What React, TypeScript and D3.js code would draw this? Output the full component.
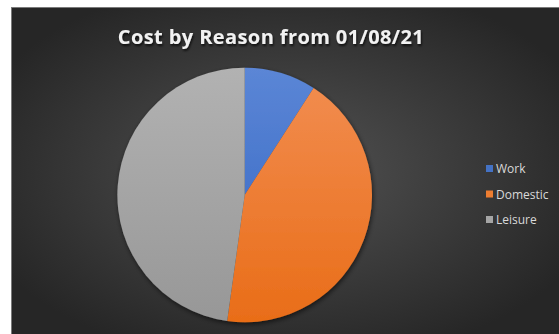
import React from "react";
import * as d3 from "d3";

const categories = ["Work", "Domestic", "Leisure"];
const values = [9.1, 43.1, 47.8];
const title = "Cost by Reason from 01/08/21";

const topColors = ["#5b86d6", "#f28e52", "#b2b2b2"];
const bottomColors = ["#3163c0", "#e96d18", "#979797"];
const legendColors = ["#4472c4", "#ed7d31", "#a5a5a5"];

export default function App() {
  const W = 559, H = 334;
  const cx = 244.7, cy = 195, r = 127.3;
  const pie = d3.pie<number>().sort(null).value((d) => d);
  const arcs = pie(values);
  const arc = d3.arc<d3.PieArcDatum<number>>().innerRadius(0).outerRadius(r);
  const legendY = d3.scalePoint<string>().domain(categories).range([169, 220]);

  return (
    <svg width={W} height={H} style={{ position: "absolute", left: 0, top: 0, fontFamily: "'Open Sans', 'Noto Sans', sans-serif" }}>
      <defs>
        <radialGradient id="bg" cx="50%" cy="50%" r="60%">
          <stop offset="0%" stopColor="#535353" />
          <stop offset="100%" stopColor="#262626" />
        </radialGradient>
        {categories.map((c, i) => (
          <linearGradient key={c} id={`g${i}`} x1="0" y1={-r} x2="0" y2={r} gradientUnits="userSpaceOnUse">
            <stop offset="0%" stopColor={topColors[i]} />
            <stop offset="100%" stopColor={bottomColors[i]} />
          </linearGradient>
        ))}
        <filter id="shadow" x="-20%" y="-20%" width="140%" height="140%">
          <feGaussianBlur in="SourceAlpha" stdDeviation="2.5" />
          <feOffset dx="1" dy="2" result="b" />
          <feComponentTransfer><feFuncA type="linear" slope="0.6" /></feComponentTransfer>
          <feMerge><feMergeNode /><feMergeNode in="SourceGraphic" /></feMerge>
        </filter>
        <filter id="tshadow" x="-10%" y="-30%" width="120%" height="160%">
          <feGaussianBlur in="SourceAlpha" stdDeviation="1" />
          <feOffset dx="1" dy="1.5" />
          <feComponentTransfer><feFuncA type="linear" slope="0.7" /></feComponentTransfer>
          <feMerge><feMergeNode /><feMergeNode in="SourceGraphic" /></feMerge>
        </filter>
      </defs>
      <rect x={0} y={0} width={W} height={H} fill="#ffffff" />
      <rect x={11} y={7} width={W - 11} height={H - 7} fill="url(#bg)" />
      <line x1={11} y1={7.5} x2={W} y2={7.5} stroke="#7a7a7a" strokeWidth={1} />
      <line x1={11.5} y1={7} x2={11.5} y2={H} stroke="#7a7a7a" strokeWidth={1} />
      <text x={271} y={44} textAnchor="middle" fill="#f2f2f2" fontSize={20} fontWeight="bold" filter="url(#tshadow)" style={{ fontFamily: "'Open Sans', sans-serif", letterSpacing: "0.4px" }}>
        {title}
      </text>
      <g transform={`translate(${cx},${cy})`} filter="url(#shadow)">
        {arcs.map((a, i) => (
          <path key={categories[i]} d={arc(a) || ""} fill={`url(#g${i})`} />
        ))}
      </g>
      {categories.map((c, i) => (
        <g key={c} transform={`translate(486,${legendY(c)})`}>
          <rect x={0} y={-4} width={7} height={7} fill={legendColors[i]} />
          <text x={10} y={4} fill="#d9d9d9" fontSize={12}>{c}</text>
        </g>
      ))}
    </svg>
  );
}
